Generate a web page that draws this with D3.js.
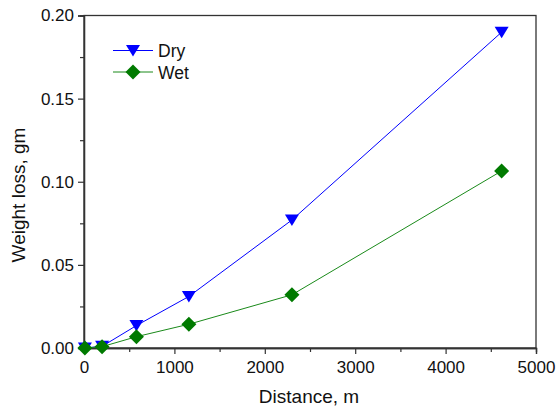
<!DOCTYPE html>
<html>
<head>
<meta charset="utf-8">
<script src="https://cdn.jsdelivr.net/npm/d3@7"></script>
<style>
body { margin: 0; background: #fff; }
text { font-family: "Liberation Sans", Arial, sans-serif; }
</style>
</head>
<body>
<svg width="557" height="411"></svg>
<script>
// data
var distance = [10, 200, 580, 1160, 2300, 4620]
var dry = [0.0, 0.001, 0.0135, 0.031, 0.077, 0.19]
var wet = [0.0, 0.0008, 0.0068, 0.0143, 0.032, 0.1065]
var xTicks = [0, 1000, 2000, 3000, 4000, 5000]
var yTicks = [0.00, 0.05, 0.10, 0.15, 0.20]

var margin = {top: 15.5, right: 21, bottom: 63, left: 84}
var width = 557 - margin.left - margin.right
var height = 411 - margin.top - margin.bottom

var svg = d3.select("svg")
var g = svg.append("g")
    .attr("transform", "translate(" + margin.left + "," + margin.top + ")")

var xScale = d3.scaleLinear().domain([0, 5000]).range([0, width])
var yScale = d3.scaleLinear().domain([0, 0.2]).range([height, 0])

// frame
g.append("rect")
    .attr("width", width).attr("height", height)
    .attr("fill", "none").attr("stroke", "#333").attr("stroke-width", 1.3)

// minor ticks
g.append("g").attr("transform", "translate(0," + height + ")")
    .call(d3.axisBottom(xScale).tickValues(d3.range(500, 5000, 1000)).tickSize(4).tickFormat(""))
g.append("g")
    .call(d3.axisLeft(yScale).tickValues(d3.range(0.025, 0.2, 0.05)).tickSize(4).tickFormat(""))

var xAxis = g.append("g").attr("transform", "translate(0," + height + ")")
    .call(d3.axisBottom(xScale).tickValues(xTicks).tickSize(6).tickPadding(7).tickFormat(d3.format("d")))
var yAxis = g.append("g")
    .call(d3.axisLeft(yScale).tickValues(yTicks).tickSize(6).tickPadding(4).tickFormat(d3.format(".2f")))

g.selectAll(".domain").attr("stroke", "#333").attr("stroke-width", 1.3)
g.selectAll(".tick line").attr("stroke", "#333").attr("stroke-width", 1.2)
g.selectAll(".tick text").attr("fill", "#111").style("font-size", "17px")
    .style("font-family", "Liberation Sans, Arial, sans-serif")

// axis titles
svg.append("text").attr("x", 309).attr("y", 403)
    .attr("text-anchor", "middle").style("font-size", "19px").attr("fill", "#111")
    .text("Distance, m")
svg.append("text").attr("transform", "translate(25,195) rotate(-90)")
    .attr("text-anchor", "middle").style("font-size", "19px").attr("fill", "#111")
    .text("Weight loss, gm")

var line = d3.line()
    .x(function(d) { return xScale(d[0]) })
    .y(function(d) { return yScale(d[1]) })

var series = [
    {name: "Dry", values: dry, color: "#0000ff", mcolor: "#0000ff", symbol: "tri"},
    {name: "Wet", values: wet, color: "#1a8a1a", mcolor: "#007a00", symbol: "dia"}
]

var triPath = "M-7,-5.5L7,-5.5L0,6Z"
var diaPath = "M0,-7.5L7.5,0L0,7.5L-7.5,0Z"

series.forEach(function(s) {
    var pts = distance.map(function(d, i) { return [d, s.values[i]] })
    g.append("path").datum(pts)
        .attr("d", line).attr("fill", "none")
        .attr("stroke", s.color).attr("stroke-width", 1)
    g.selectAll(".m" + s.name).data(pts).enter().append("path")
        .attr("transform", function(d) { return "translate(" + xScale(d[0]) + "," + yScale(d[1]) + ")" })
        .attr("d", s.symbol == "tri" ? triPath : diaPath)
        .attr("fill", s.mcolor)
})

// legend
var legend = svg.append("g").attr("transform", "translate(113,50.5)")
series.forEach(function(s, i) {
    var row = legend.append("g").attr("transform", "translate(0," + (i * 21.5) + ")")
    row.append("line").attr("x1", 0).attr("x2", 40).attr("stroke", s.color).attr("stroke-width", 1)
    row.append("path").attr("transform", "translate(20,0)")
        .attr("d", s.symbol == "tri" ? triPath : diaPath).attr("fill", s.mcolor)
    row.append("text").attr("x", 45).attr("y", 6.5).style("font-size", "17.5px").attr("fill", "#111")
        .text(s.name)
})
</script>
</body>
</html>
